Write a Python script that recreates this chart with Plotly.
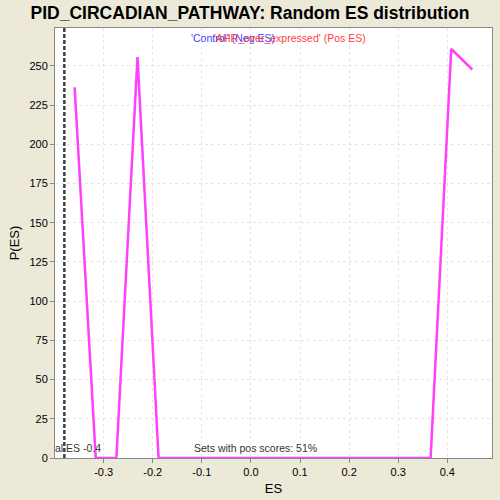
import plotly.graph_objects as go

es_values = [-0.359, -0.316, -0.274, -0.231, -0.188, -0.146, -0.103, -0.061, -0.018, 0.025,
             0.067, 0.110, 0.153, 0.195, 0.238, 0.281, 0.323, 0.366, 0.408, 0.451]
p_values = [236.4, 0, 0, 255.7, 0, 0, 0, 0, 0, 0,
            0, 0, 0, 0, 0, 0, 0, 0, 260.8, 247.6]
actual_es = -0.38
x_ticks = [-0.3, -0.2, -0.1, 0.0, 0.1, 0.2, 0.3, 0.4]
x_tick_labels = ["-0.3", "-0.2", "-0.1", "0.0", "0.1", "0.2", "0.3", "0.4"]
y_ticks = [0, 25, 50, 75, 100, 125, 150, 175, 200, 225, 250]

fig = go.Figure()
fig.add_trace(go.Scatter(x=es_values, y=p_values, mode="lines",
                         line=dict(color="#FF40FF", width=2.5), showlegend=False))
fig.add_shape(type="line", x0=actual_es, x1=actual_es, y0=0, y1=1, yref="paper",
              line=dict(color="#404040", width=2.5, dash="4px,2px"))

fig.update_layout(
    width=500, height=500,
    paper_bgcolor="#ECE9D8", plot_bgcolor="white",
    margin=dict(l=55, r=8, t=28, b=42, autoexpand=False),
    title=dict(text="<b>PID_CIRCADIAN_PATHWAY: Random ES distribution</b>",
               x=0.5, xanchor="center", y=0.974, yanchor="middle",
               font=dict(family="Liberation Sans, Arial", size=17.5, color="black")),
    font=dict(family="Liberation Sans, Arial", color="black"),
    xaxis=dict(range=[-0.399, 0.491], tickvals=x_ticks, ticktext=x_tick_labels,
               showgrid=True, gridcolor="#E6E6E6", griddash="3px,3px", zeroline=False,
               showline=True, linecolor="#888888", mirror=True, ticks="outside",
               ticklen=4, tickcolor="#888888", tickfont=dict(size=11), automargin=False,
               title=dict(text="ES", font=dict(size=13), standoff=6)),
    yaxis=dict(range=[0, 274.2], tickvals=y_ticks,
               showgrid=True, gridcolor="#E6E6E6", griddash="3px,3px", zeroline=False,
               showline=True, linecolor="#888888", mirror=True, ticks="outside",
               ticklen=4, tickcolor="#888888", tickfont=dict(size=11), automargin=False,
               title=dict(text="P(ES)", font=dict(size=13), standoff=6)),
)

fig.add_annotation(x=0.307, xref="paper", y=0.977, yref="paper", showarrow=False,
                   text="'Control' (Neg ES)", font=dict(size=10.5, color="#4040FF"),
                   xanchor="left", yanchor="middle")
fig.add_annotation(x=0.359, xref="paper", y=0.977, yref="paper", showarrow=False,
                   text="'AHR_over_expressed' (Pos ES)", font=dict(size=10.5, color="#FF4040"),
                   xanchor="left", yanchor="middle")
fig.add_annotation(x=-0.005, xref="paper", y=0.005, yref="paper", showarrow=False,
                   text="al ES -0.4", font=dict(size=10.5, color="#333333"),
                   xanchor="left", yanchor="bottom")
fig.add_annotation(x=0.314, xref="paper", y=0.005, yref="paper", showarrow=False,
                   text="Sets with pos scores: 51%", font=dict(size=10.5, color="#333333"),
                   xanchor="left", yanchor="bottom")

fig.write_html("out.html", config={"displayModeBar": False},
               post_script="document.body.style.margin='0';document.body.style.background='#ECE9D8';")
